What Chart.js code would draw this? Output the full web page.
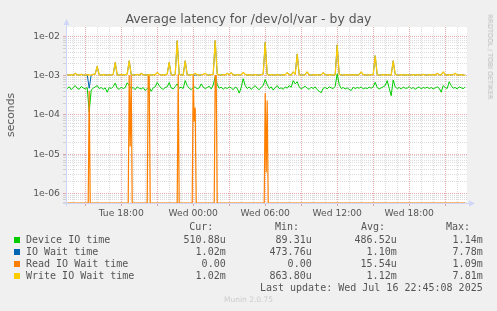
<!DOCTYPE html>
<html>
<head>
<meta charset="utf-8">
<script src="https://cdn.jsdelivr.net/npm/chart.js@4.4.1/dist/chart.umd.min.js"></script>
<style>
  html, body { margin: 0; padding: 0; background: #f0f0f0; }
  #wrap { position: relative; width: 497px; height: 311px; overflow: hidden; font-family: "DejaVu Sans", sans-serif; color: #555; }
  #chart { position: absolute; left: 0; top: 0; }
  .t { position: absolute; white-space: pre; }
  #title { left: 0; width: 497px; top: 12px; line-height: 14px; text-align: center; font-size: 12.4px; color: #555; }
  #ylab { left: 11px; top: 115px; font-size: 10.8px; line-height: 12px; transform: translate(-50%, -50%) rotate(-90deg); }
  #rrd { left: 490px; top: 57px; font-size: 6.6px; line-height: 8px; color: #bbb; transform: translate(-50%, -50%) rotate(90deg); }
  #munin { left: 0; width: 497px; top: 295px; text-align: center; font-size: 7.5px; line-height: 10px; color: #ccc; }
  .lg { position: absolute; white-space: pre; font-family: "DejaVu Sans Mono", monospace; font-size: 10px; line-height: 12px; color: #555; }
  .sq { position: absolute; width: 6px; height: 6px; }
</style>
</head>
<body>
<div id="wrap">
  <canvas id="chart" width="497" height="311"></canvas>
  <div class="t" id="title">Average latency for /dev/ol/var - by day</div>
  <div class="t" id="ylab">seconds</div>
  <div class="t" id="rrd">RRDTOOL / TOBI OETIKER</div>
  <div class="t" id="munin">Munin 2.0.75</div>
</div>
<script>
// sample grid: minutes since Tue 00:00, one sample every 10 min
const sampleStart = 810;
const sampleStep = 10;

// values in microseconds
const deviceIO = [
  470, 520, 440, 500, 560, 480, 450, 530, 490, 460,
  500, 120, 430, 480, 520, 560, 470, 500, 450, 490,
  380, 500, 470, 530, 650, 480, 450, 510, 470, 500,
  660, 560, 470, 500, 440, 520, 480, 460, 500, 420,
  470, 510, 400, 490, 520, 670, 560, 480, 450, 500,
  520, 670, 490, 460, 530, 620, 480, 510, 470, 750,
  560, 480, 440, 500, 520, 460, 490, 620, 510, 470,
  500, 540, 460, 580, 940, 600, 480, 510, 450, 500,
  470, 520, 490, 440, 510, 480, 360, 500, 840, 560,
  470, 520, 450, 500, 560, 480, 440, 510, 560, 800,
  600, 470, 520, 430, 500, 560, 470, 490, 450, 520,
  480, 560, 510, 750, 620, 700, 520, 460, 500, 540,
  480, 450, 510, 470, 520, 440, 400, 370, 480, 500,
  460, 520, 490, 470, 540, 1120, 600, 470, 500, 460,
  490, 450, 420, 510, 470, 500, 480, 520, 460, 490,
  470, 510, 480, 520, 680, 500, 460, 490, 520, 560,
  750, 480, 310, 780, 520, 470, 500, 460, 510, 480,
  480, 530, 470, 500, 450, 490, 520, 460, 500, 480,
  510, 470, 500, 460, 490, 520, 480, 380, 560, 500,
  470, 700, 560, 480, 500, 460, 520, 490, 470, 510
];

const ioWait = [
  1050, 1040, 1070, 1030, 1150, 1060, 1040, 1080, 1050, 1030,
  1060, 480, 1040, 1080, 1100, 1730, 1060, 1040, 1070, 1050,
  1040, 1060, 1030, 1080, 2180, 1050, 1040, 1070, 1050, 1060,
  1100, 2400, 1060, 1040, 1050, 1080, 1030, 1150, 1060, 1040,
  1050, 1070, 1040, 1060, 1050, 1210, 1080, 1040, 1060, 1050,
  1100, 2180, 1060, 1040, 1070, 7750, 1080, 1050, 1040, 2400,
  1060, 1040, 1070, 1050, 1040, 1060, 1040, 1050, 1080, 1150,
  1050, 1040, 1060, 1080, 7780, 1100, 1050, 1040, 1060, 1050,
  1150, 1060, 1200, 1050, 1040, 1070, 1050, 1060, 1210, 1080,
  1040, 1060, 1050, 1030, 1070, 1050, 1040, 1060, 1100, 7050,
  1080, 1040, 1060, 1050, 1030, 1070, 1050, 1040, 1060, 1050,
  1200, 1060, 1040, 1250, 1080, 3570, 1060, 1040, 1050, 1070,
  1250, 1050, 1040, 1060, 1050, 1070, 1040, 1050, 1200, 1060,
  1040, 1070, 1050, 1030, 1060, 6100, 1080, 1050, 1040, 1060,
  1050, 1070, 1040, 1060, 1050, 1040, 1070, 1250, 1060, 1050,
  1040, 1060, 1050, 1080, 3230, 1060, 1040, 1050, 1070, 1040,
  1060, 1050, 1040, 2400, 1080, 1050, 1040, 1070, 1050, 1030,
  1060, 1040, 1050, 1070, 1040, 1060, 1050, 1040, 1080, 1050,
  1040, 1060, 1050, 1070, 1040, 1150, 1060, 1050, 1250, 1060,
  1040, 1070, 1050, 1060, 1150, 1040, 1050, 1060, 1040, 1020
];

const writeWait = [
  1050, 1040, 1070, 1030, 1150, 1060, 1040, 1080, 1050, 1030,
  1060, 1050, 1040, 1080, 1100, 1730, 1060, 1040, 1070, 1050,
  1040, 1060, 1030, 1080, 2180, 1050, 1040, 1070, 1050, 1060,
  1100, 2400, 1060, 1040, 1050, 1080, 1030, 1150, 1060, 1040,
  1050, 1070, 1040, 1060, 1050, 1210, 1080, 1040, 1060, 1050,
  1100, 2180, 1060, 1040, 1070, 7800, 1080, 1050, 1040, 2400,
  1060, 1040, 1070, 1050, 1150, 1060, 1040, 1050, 1080, 1150,
  1050, 1040, 1060, 1080, 7810, 1100, 1050, 1040, 1060, 1050,
  1150, 1060, 1200, 1050, 1040, 1070, 1050, 1060, 1210, 1080,
  1040, 1060, 1050, 1030, 1070, 1050, 1040, 1060, 1100, 7050,
  1080, 1040, 1060, 1050, 1030, 1070, 1050, 1040, 1060, 1050,
  1200, 1060, 1040, 1250, 1080, 3570, 1060, 1040, 1050, 1070,
  1250, 1050, 1040, 1060, 1050, 1070, 1040, 1050, 1200, 1060,
  1040, 1070, 1050, 1030, 1060, 6100, 1080, 1050, 1040, 1060,
  1050, 1070, 1040, 1060, 1050, 1040, 1070, 1250, 1060, 1050,
  1040, 1060, 1050, 1080, 3230, 1060, 1040, 1050, 1070, 1040,
  1060, 1050, 1040, 2400, 1080, 1050, 1040, 1070, 1050, 1030,
  1060, 1040, 1050, 1070, 1040, 1060, 1050, 1040, 1080, 1050,
  1040, 1060, 1050, 1070, 1040, 1150, 1060, 1050, 1250, 1060,
  1040, 1070, 1050, 1060, 1150, 1040, 1050, 1060, 1040, 1020
];

// read wait is zero almost all the time, so it is kept as sparse (time, value) pairs
const readTimes = [810, 915, 920, 925, 1115, 1120, 1125, 1130, 1135, 1210, 1215, 1220, 1225,
  1360, 1365, 1370, 1435, 1440, 1445, 1450, 1455, 1545, 1550, 1555, 1560,
  1795, 1800, 1805, 1810, 1815, 2800];
const readWait = [0, 0, 400, 0, 0, 1000, 16, 1000, 0, 0, 1000, 1000, 0,
  0, 1090, 0, 0, 1000, 70, 150, 0, 0, 1000, 1000, 0,
  0, 350, 3.5, 230, 0, 0];

const xLabelTimes = [1080, 1440, 1800, 2160, 2520];
const xLabels = ["Tue 18:00", "Wed 00:00", "Wed 06:00", "Wed 12:00", "Wed 18:00"];
const yDecades = [-7, -6, -5, -4, -3, -2];
const yMin = 5.66e-7;
const yMax = 1.75e-2;

const seriesNames = ["Device IO time", "IO Wait time", "Read IO Wait time", "Write IO Wait time"];
const curVals = ["510.88u", "1.02m", "0.00", "1.02m"];
const minVals = ["89.31u", "473.76u", "0.00", "863.80u"];
const avgVals = ["486.52u", "1.10m", "15.54u", "1.12m"];
const maxVals = ["1.14m", "7.78m", "1.09m", "7.81m"];
const lastUpdate = "Last update: Wed Jul 16 22:45:08 2025";

const colors = ["#00CC00", "#0066B3", "#FF8000", "#FFCC00"];
const MAJOR = "rgba(210, 90, 90, 0.5)";
const MINOR = "rgba(140, 140, 140, 0.3)";
const AXIS = "#CFD6F8";

// a zero cannot sit on a log axis: rrdtool pins it to the bottom edge, so do the same
function toY(us) {
  return us === 0 ? yMin : us / 1e6;
}

function series(vals) {
  return vals.map((v, i) => ({ x: sampleStart + i * sampleStep, y: toY(v) }));
}

function sparse(times, vals) {
  return times.map((t, i) => ({ x: t, y: toY(vals[i]) }));
}

function lineDataset(label, data, color, order, width) {
  return {
    label,
    data,
    borderColor: color,
    backgroundColor: color,
    borderWidth: width || 1,
    borderJoinStyle: "round",
    pointRadius: 0,
    tension: 0,
    fill: false,
    order,
  };
}

const canvasBg = {
  id: "canvasBg",
  beforeDraw(chart) {
    const { ctx, chartArea: a } = chart;
    ctx.save();
    ctx.fillStyle = "#ffffff";
    ctx.fillRect(a.left, a.top, a.right - a.left, a.bottom - a.top);
    ctx.restore();
  },
  beforeDatasetsDraw(chart) {
    const { ctx, chartArea: a } = chart;
    ctx.save();
    ctx.strokeStyle = AXIS;
    ctx.fillStyle = AXIS;
    ctx.lineWidth = 1;
    ctx.beginPath();
    ctx.moveTo(a.left + 0.5, a.bottom + 3);
    ctx.lineTo(a.left + 0.5, a.top - 4);
    ctx.moveTo(a.left - 3, a.bottom + 0.5);
    ctx.lineTo(a.right + 4, a.bottom + 0.5);
    ctx.stroke();
    ctx.beginPath();
    ctx.moveTo(a.left + 0.5, a.top - 8);
    ctx.lineTo(a.left - 2.5, a.top - 2);
    ctx.lineTo(a.left + 3.5, a.top - 2);
    ctx.closePath();
    ctx.fill();
    ctx.beginPath();
    ctx.moveTo(a.right + 8, a.bottom + 0.5);
    ctx.lineTo(a.right + 2, a.bottom - 2.5);
    ctx.lineTo(a.right + 2, a.bottom + 3.5);
    ctx.closePath();
    ctx.fill();
    ctx.restore();
  },
};

new Chart(document.getElementById("chart"), {
  type: "line",
  data: {
    datasets: [
      lineDataset(seriesNames[0], series(deviceIO), colors[0], 4, 1),
      lineDataset(seriesNames[1], series(ioWait), colors[1], 3, 1),
      lineDataset(seriesNames[2], sparse(readTimes, readWait), colors[2], 2, 1.2),
      lineDataset(seriesNames[3], series(writeWait), colors[3], 1, 1.25),
    ],
  },
  options: {
    responsive: false,
    animation: false,
    devicePixelRatio: 1,
    layout: { padding: { top: 27, right: 30, bottom: 88, left: 0 } },
    plugins: { legend: { display: false }, tooltip: { enabled: false }, title: { display: false } },
    scales: {
      x: {
        type: "linear",
        min: 804,
        max: 2809,
        afterFit: (s) => { s.height = 20; },
        afterBuildTicks: (s) => {
          const t = [];
          for (let m = 840; m <= 2809; m += 60) t.push({ value: m, major: m % 180 === 0 });
          s.ticks = t;
        },
        ticks: {
          autoSkip: false,
          maxRotation: 0,
          padding: 2,
          color: "#555",
          font: { family: "DejaVu Sans", size: 9.2 },
          callback: (v) => {
            const k = xLabelTimes.indexOf(v);
            return k >= 0 ? xLabels[k] : "";
          },
        },
        grid: {
          color: (c) => (c.tick && c.tick.major ? MAJOR : MINOR),
          tickColor: (c) => (c.tick && c.tick.major ? MAJOR : "rgba(0,0,0,0)"),
          tickLength: 3,
          lineWidth: 1,
        },
        border: { display: false, dash: [1, 1] },
      },
      y: {
        type: "logarithmic",
        min: yMin,
        max: yMax,
        afterFit: (s) => { s.width = 66; },
        afterBuildTicks: (s) => {
          const t = [];
          yDecades.forEach((e) => {
            for (let m = 1; m <= 9; m++) {
              const v = m * Math.pow(10, e);
              if (v >= s.min && v <= s.max) t.push({ value: v, major: m === 1 });
            }
          });
          s.ticks = t;
        },
        ticks: {
          autoSkip: false,
          padding: 3,
          color: "#555",
          font: { family: "DejaVu Sans", size: 9.3 },
          callback: function (v, i, ticks) {
            if (!ticks[i].major) return "";
            const e = Math.round(Math.log10(v));
            return "1e-" + String(-e).padStart(2, "0");
          },
        },
        grid: {
          color: (c) => (c.tick && c.tick.major ? MAJOR : MINOR),
          tickColor: (c) => (c.tick && c.tick.major ? MAJOR : MINOR),
          tickLength: 3,
          lineWidth: 1,
        },
        border: { display: false, dash: [1, 1] },
      },
    },
  },
  plugins: [canvasBg],
});

// legend block under the plot
const wrap = document.getElementById("wrap");
function addText(txt, css) {
  const d = document.createElement("div");
  d.className = "lg";
  d.textContent = txt;
  Object.assign(d.style, css);
  wrap.appendChild(d);
}
const colRight = [271.3, 185.3, 100.3, 14.3];
const headRight = [283.7, 198, 112, 27];
["Cur:", "Min:", "Avg:", "Max:"].forEach((h, c) => addText(h, { right: headRight[c] + "px", top: "221.3px" }));
seriesNames.forEach((name, r) => {
  const top = 233.7 + r * 12;
  const sq = document.createElement("div");
  sq.className = "sq";
  sq.style.left = "14px";
  sq.style.top = (top + 3) + "px";
  sq.style.background = colors[r];
  wrap.appendChild(sq);
  addText(name, { left: "26px", top: top + "px" });
  [curVals, minVals, avgVals, maxVals].forEach((col, c) =>
    addText(col[r], { right: colRight[c] + "px", top: top + "px" })
  );
});
addText(lastUpdate, { right: "14.3px", top: "281.7px" });
</script>
</body>
</html>
